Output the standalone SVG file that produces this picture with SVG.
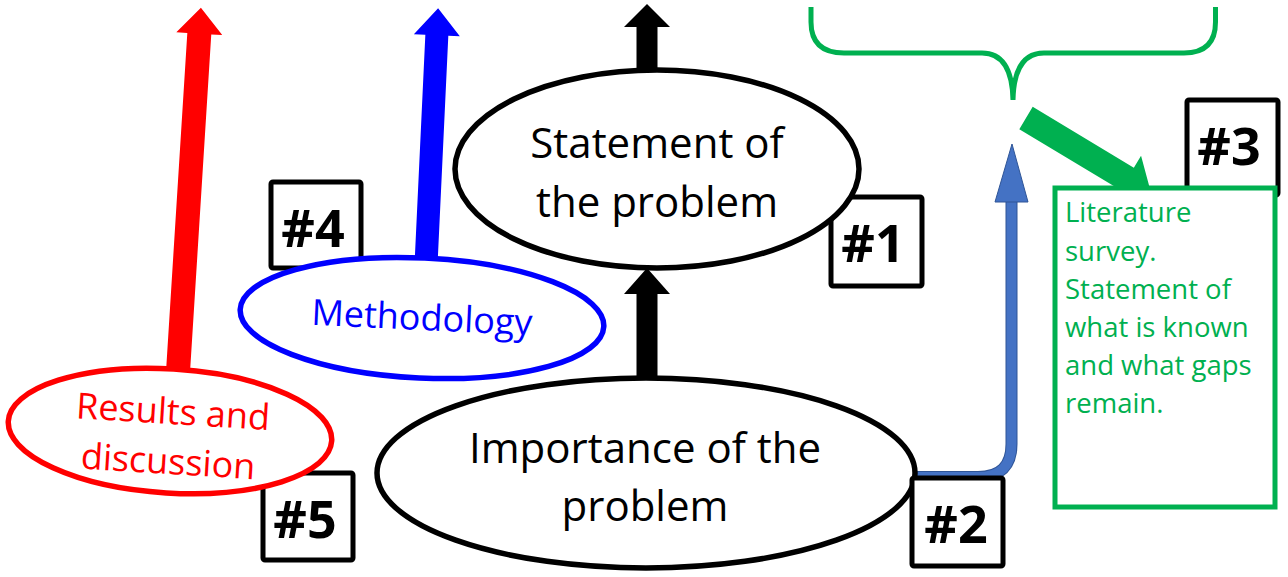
<svg xmlns="http://www.w3.org/2000/svg" width="1288" height="577" viewBox="0 0 1288 577">
<style>
.ell{fill:#fff;stroke-width:5.5}
.box{fill:#fff;stroke:#000;stroke-width:5}
.num{font-family:"Open Sans","Liberation Sans",sans-serif;font-weight:bold;font-size:52px;text-anchor:middle;fill:#000}
.big{font-family:"Open Sans","Liberation Sans",sans-serif;font-size:42px;text-anchor:middle;fill:#000}
.mid{font-family:"Open Sans","Liberation Sans",sans-serif;font-size:36px;text-anchor:middle}
.lit{font-family:"Open Sans","Liberation Sans",sans-serif;font-size:27.5px;fill:#00B050}
</style>
<g id="connectors">
  <g transform="rotate(3.6 178 372)">
    <polygon points="166,372 166,33 155,33 178,7 201,33 190,33 190,372" fill="#FF0000"/>
  </g>
  <g transform="rotate(2.7 426 265)">
    <polygon points="414.5,265 414.5,35 403,35 426,8 449,35 437.5,35 437.5,265" fill="#0000FF"/>
  </g>
  <polygon points="636.5,80 636.5,27 624,27 647,4 670,27 657.5,27 657.5,80" fill="#000"/>
  <polygon points="636.5,385 636.5,294 624,294 647,268 670,294 657.5,294 657.5,385" fill="#000"/>
  <path d="M 910 477 L 978 477 Q 1011.5 477 1011.5 444 L 1011.5 198" fill="none" stroke="#2F5597" stroke-width="12"/>
  <path d="M 910 477 L 978 477 Q 1011.5 477 1011.5 444 L 1011.5 198" fill="none" stroke="#4472C4" stroke-width="10"/>
  <polygon points="1012,144 995,202 1028,202" fill="#4472C4" stroke="#2F5597" stroke-width="1"/>
  <path d="M 811 7 L 811 22 Q 811 53 844 53 L 982 53 Q 1012 53 1013 100 Q 1014 53 1044 53 L 1184 53 Q 1215.5 53 1215.5 22 L 1215.5 7" fill="none" stroke="#00B050" stroke-width="5"/>
  <g transform="translate(1026 118) rotate(31)">
    <polygon points="0,-13 118,-13 118,-27 146,0 118,27 118,13 0,13" fill="#00B050"/>
  </g>
</g>
<g id="n4"><rect class="box" x="271" y="182" width="90" height="86" rx="2"/><text class="num" x="313" y="247">#4</text></g>
<g id="n5"><rect class="box" x="263" y="473" width="90" height="87" rx="2"/><text class="num" x="305" y="538">#5</text></g>
<g id="n1"><rect class="box" x="831" y="197" width="91" height="89" rx="2"/><text class="num" x="873" y="262">#1</text></g>
<g id="n3"><rect class="box" x="1187" y="100" width="91" height="95" rx="2"/><text class="num" x="1229" y="165">#3</text></g>
<g id="statement">
  <ellipse class="ell" stroke="#000" cx="657" cy="169" rx="202" ry="99"/>
  <text class="big" x="657" y="158">Statement of</text>
  <text class="big" x="657" y="217">the problem</text>
</g>
<g id="importance">
  <ellipse class="ell" stroke="#000" cx="646" cy="473" rx="269" ry="95"/>
  <text class="big" x="645" y="463">Importance of the</text>
  <text class="big" x="645" y="521">problem</text>
</g>
<g id="n2"><rect class="box" x="912" y="478" width="91" height="88" rx="2"/><text class="num" x="956" y="543">#2</text></g>
<g id="methodology" transform="rotate(2.7 422 318)">
  <ellipse class="ell" stroke="#0000FF" cx="422" cy="318" rx="182" ry="60"/>
  <text class="mid" fill="#0000FF" x="422" y="330">Methodology</text>
</g>
<g id="results" transform="rotate(3.5 170 431)">
  <ellipse class="ell" stroke="#FF0000" cx="170" cy="431" rx="162" ry="62"/>
  <text class="mid" fill="#FF0000" x="172" y="424">Results and</text>
  <text class="mid" fill="#FF0000" x="170" y="474">discussion</text>
</g>
<g id="literature">
  <rect x="1055" y="188" width="220" height="319" fill="#fff" stroke="#00B050" stroke-width="5"/>
  <text class="lit" x="1065" y="222">Literature</text>
  <text class="lit" x="1065" y="261">survey.</text>
  <text class="lit" x="1065" y="299">Statement of</text>
  <text class="lit" x="1065" y="337">what is known</text>
  <text class="lit" x="1065" y="375">and what gaps</text>
  <text class="lit" x="1065" y="413">remain.</text>
</g>
</svg>
